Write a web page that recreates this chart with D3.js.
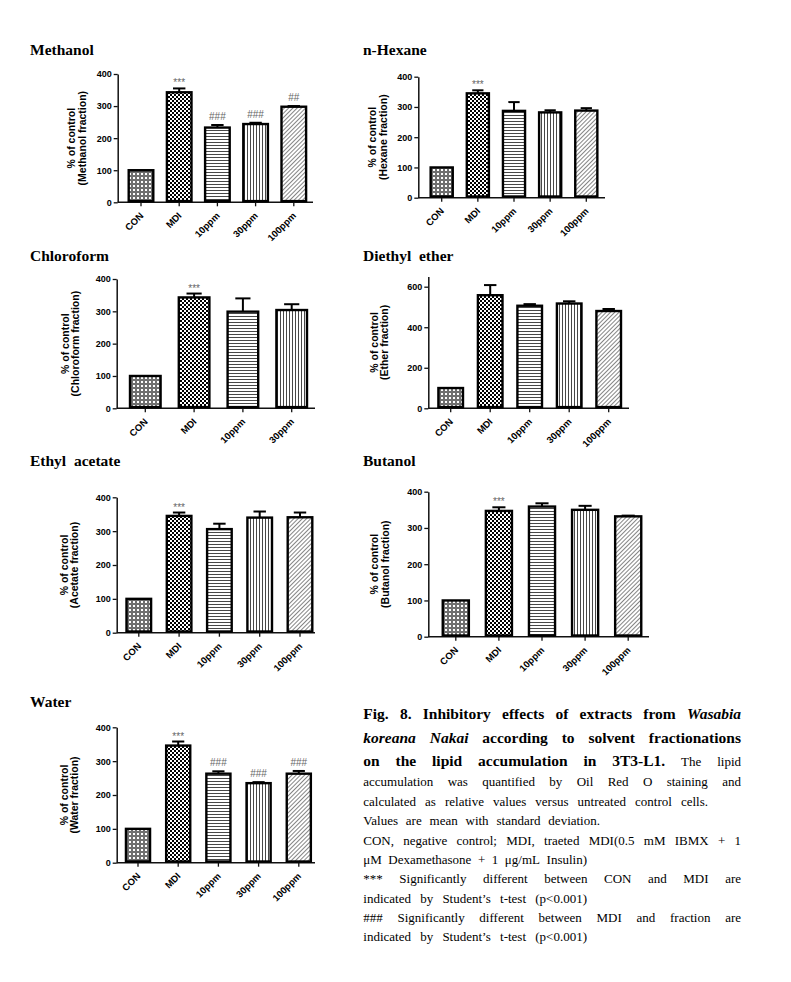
<!DOCTYPE html>
<html><head><meta charset="utf-8">
<script src="https://cdn.jsdelivr.net/npm/d3@7"></script>
<style>body{margin:0;background:#fff}svg{display:block}</style>
</head><body>
<script>
// ---------------- DATA ----------------
const categories = ["CON", "MDI", "10ppm", "30ppm", "100ppm"];
const chloroformCategories = ["CON", "MDI", "10ppm", "30ppm"];

const methanolValues   = [100, 343, 233, 244, 298];
const methanolSD       = [0, 12, 8, 4, 2];
const methanolMarks    = ["", "***", "###", "###", "##"];

const hexaneValues     = [100, 345, 287, 282, 288];
const hexaneSD         = [0, 10, 29, 7, 8];
const hexaneMarks      = ["", "***", "", "", ""];

const chloroformValues = [100, 343, 299, 304];
const chloroformSD     = [0, 12, 41, 18];
const chloroformMarks  = ["", "***", "", ""];

const etherValues      = [100, 558, 506, 517, 480];
const etherSD          = [0, 50, 8, 11, 10];
const etherMarks       = ["", "", "", "", ""];

const acetateValues    = [100, 345, 306, 340, 341];
const acetateSD        = [0, 10, 16, 18, 14];
const acetateMarks     = ["", "***", "", "", ""];

const butanolValues    = [100, 347, 359, 350, 332];
const butanolSD        = [0, 10, 9, 11, 2];
const butanolMarks     = ["", "***", "", "", ""];

const waterValues      = [100, 346, 263, 235, 263];
const waterSD          = [0, 12, 7, 3, 8];
const waterMarks       = ["", "***", "###", "###", "###"];

const ticks400 = [0, 100, 200, 300, 400];
const ticks600 = [0, 200, 400, 600];

const captionText = [
  [["Fig. 8. Inhibitory effects of extracts from", "b"], ["Wasabia", "bi"]],
  [["koreana Nakai", "bi"], ["according to solvent fractionations", "b"]],
  [["on the lipid accumulation in 3T3-L1.", "b"], ["The lipid", "r"]],
  [["accumulation was quantified by Oil Red O staining and", "r"]],
  [["calculated as relative values versus untreated control cells.", "r"]],
  [["Values are mean with standard deviation.", "r"]],
  [["CON, negative control; MDI, traeted MDI(0.5 mM IBMX + 1", "r"]],
  [["\u03bcM Dexamethasone + 1 \u03bcg/mL Insulin)", "r"]],
  [["*** Significantly different between CON and MDI are", "r"]],
  [["indicated by Student\u2019s t-test (p<0.001)", "r"]],
  [["### Significantly different between MDI and fraction are", "r"]],
  [["indicated by Student\u2019s t-test (p<0.001)", "r"]]
];

// ---------------- LAYOUT ----------------
const W = 791, H = 982;
const svg = d3.select("body").append("svg").attr("width", W).attr("height", H);
const defs = svg.append("defs");

// patterns
(function () {
  let p = defs.append("pattern").attr("id", "p0").attr("patternUnits", "userSpaceOnUse").attr("width", 4).attr("height", 4);
  p.append("rect").attr("width", 4).attr("height", 4).attr("fill", "#707070");
  p.append("rect").attr("x", 1).attr("y", 1).attr("width", 2).attr("height", 2).attr("fill", "#fff");
  p = defs.append("pattern").attr("id", "p1").attr("patternUnits", "userSpaceOnUse").attr("width", 4).attr("height", 4);
  p.append("rect").attr("width", 4).attr("height", 4).attr("fill", "#fff");
  p.append("rect").attr("width", 2).attr("height", 2).attr("fill", "#000");
  p.append("rect").attr("x", 2).attr("y", 2).attr("width", 2).attr("height", 2).attr("fill", "#000");
  p = defs.append("pattern").attr("id", "p2").attr("patternUnits", "userSpaceOnUse").attr("width", 4).attr("height", 3);
  p.append("rect").attr("width", 4).attr("height", 3).attr("fill", "#fff");
  p.append("line").attr("x1", 0).attr("x2", 4).attr("y1", 1.5).attr("y2", 1.5).attr("stroke", "#333").attr("stroke-width", 0.9);
  p = defs.append("pattern").attr("id", "p3").attr("patternUnits", "userSpaceOnUse").attr("width", 3).attr("height", 4);
  p.append("rect").attr("width", 3).attr("height", 4).attr("fill", "#fff");
  p.append("line").attr("y1", 0).attr("y2", 4).attr("x1", 1.5).attr("x2", 1.5).attr("stroke", "#333").attr("stroke-width", 0.9);
  p = defs.append("pattern").attr("id", "p4").attr("patternUnits", "userSpaceOnUse").attr("width", 3).attr("height", 3).attr("patternTransform", "rotate(45)");
  p.append("rect").attr("width", 3).attr("height", 3).attr("fill", "#fff");
  p.append("line").attr("y1", 0).attr("y2", 3).attr("x1", 1.5).attr("x2", 1.5).attr("stroke", "#777").attr("stroke-width", 0.9);
})();

const panels = [
  {title: "Methanol", tx: 30, ty: 55, label: "(Methanol fraction)", cats: categories, vals: methanolValues, sd: methanolSD, marks: methanolMarks,
   ax: 117.7, y0: 202.3, yMaxPx: 74, max: 400, top: 400, ticks: ticks400, xEnd: 313, c0: 141, step: 38.2, bw: 27, l1: 43, l2: 32},
  {title: "n-Hexane", tx: 363, ty: 55, label: "(Hexane fraction)", cats: categories, vals: hexaneValues, sd: hexaneSD, marks: hexaneMarks,
   ax: 418.3, y0: 197.7, yMaxPx: 76.7, max: 400, top: 400, ticks: ticks400, xEnd: 605, c0: 441.7, step: 36.15, bw: 24.5, l1: 42, l2: 31},
  {title: "Chloroform", tx: 30, ty: 261, label: "(Chloroform fraction)", cats: chloroformCategories, vals: chloroformValues, sd: chloroformSD, marks: chloroformMarks,
   ax: 116.7, y0: 408.3, yMaxPx: 279, max: 400, top: 400, ticks: ticks400, xEnd: 315, c0: 145.3, step: 48.8, bw: 33, l1: 48, l2: 38},
  {title: "Diethyl  ether", tx: 363, ty: 261, label: "(Ether fraction)", cats: categories, vals: etherValues, sd: etherSD, marks: etherMarks,
   ax: 428.3, y0: 408.3, yMaxPx: 286.7, max: 600, top: 650, ticks: ticks600, xEnd: 629, c0: 450.7, step: 39.5, bw: 27, l1: 50, l2: 40},
  {title: "Ethyl  acetate", tx: 30, ty: 466, label: "(Acetate fraction)", cats: categories, vals: acetateValues, sd: acetateSD, marks: acetateMarks,
   ax: 116.7, y0: 632.7, yMaxPx: 497.3, max: 400, top: 400, ticks: ticks400, xEnd: 315, c0: 138.8, step: 40.3, bw: 27, l1: 49, l2: 39},
  {title: "Butanol", tx: 363, ty: 466, label: "(Butanol fraction)", cats: categories, vals: butanolValues, sd: butanolSD, marks: butanolMarks,
   ax: 428.3, y0: 636.7, yMaxPx: 491.7, max: 400, top: 400, ticks: ticks400, xEnd: 649, c0: 455.8, step: 43.1, bw: 28.5, l1: 50, l2: 39},
  {title: "Water", tx: 30, ty: 707, label: "(Water fraction)", cats: categories, vals: waterValues, sd: waterSD, marks: waterMarks,
   ax: 116.7, y0: 862.7, yMaxPx: 727.3, max: 400, top: 400, ticks: ticks400, xEnd: 315, c0: 138, step: 40.2, bw: 26.5, l1: 49, l2: 39}
];

const sans = "'Liberation Sans', Arial, sans-serif";
const serif = "'Liberation Serif', 'Times New Roman', serif";

panels.forEach(P => {
  const g = svg.append("g");
  g.append("text").attr("x", P.tx).attr("y", P.ty).text(P.title)
    .attr("font-family", serif).attr("font-weight", "bold").attr("font-size", 15.5).attr("fill", "#000")
    .attr("xml:space", "preserve").style("white-space", "pre");

  const pxPerUnit = (P.y0 - P.yMaxPx) / P.max;
  const y = d3.scaleLinear().domain([0, P.top]).range([P.y0, P.y0 - P.top * pxPerUnit]);
  const n = P.cats.length;
  const L = P.c0 - P.step / 2;
  const x = d3.scaleBand().domain(P.cats).range([L, L + n * P.step])
    .paddingInner(1 - P.bw / P.step).paddingOuter((1 - P.bw / P.step) / 2);

  // y axis
  const ya = g.append("g").attr("transform", `translate(${P.ax},0)`)
    .call(d3.axisLeft(y).tickValues(P.ticks).tickSize(4).tickSizeOuter(0).tickPadding(2));
  ya.select(".domain").attr("stroke", "#111").attr("stroke-width", 1.5);
  ya.selectAll(".tick line").attr("stroke", "#111").attr("stroke-width", 1.3);
  ya.selectAll(".tick text").attr("font-family", sans).attr("font-weight", "bold").attr("font-size", 9).attr("fill", "#000");

  // x axis
  const xa = g.append("g").attr("transform", `translate(0,${P.y0})`)
    .call(d3.axisBottom(x).tickSize(4).tickSizeOuter(0).tickPadding(0));
  xa.select(".domain").remove();
  xa.selectAll(".tick line").attr("stroke", "#111").attr("stroke-width", 1.3);
  xa.selectAll(".tick text")
    .attr("font-family", sans).attr("font-weight", "bold").attr("font-size", 9.5).attr("fill", "#000")
    .attr("text-anchor", "end").attr("dy", null).attr("y", 0)
    .attr("transform", "translate(3,14) rotate(-45)");
  g.append("line").attr("x1", P.ax).attr("x2", P.xEnd).attr("y1", P.y0).attr("y2", P.y0)
    .attr("stroke", "#111").attr("stroke-width", 1.5);

  // bars
  const data = P.cats.map((c, i) => ({c, i, v: P.vals[i], sd: P.sd[i], m: P.marks[i]}));
  const sw = 2.4;
  g.selectAll("rect.bar").data(data).join("rect").attr("class", "bar")
    .attr("x", d => x(d.c) + sw / 2).attr("width", x.bandwidth() - sw)
    .attr("y", d => y(d.v)).attr("height", d => y(0) - y(d.v) - sw / 2)
    .attr("fill", d => `url(#p${d.i})`).attr("stroke", "#000").attr("stroke-width", sw);

  // error bars
  const eb = data.filter(d => d.sd > 0);
  g.selectAll("line.err").data(eb).join("line").attr("class", "err")
    .attr("x1", d => x(d.c) + x.bandwidth() / 2).attr("x2", d => x(d.c) + x.bandwidth() / 2)
    .attr("y1", d => y(d.v)).attr("y2", d => y(d.v + d.sd)).attr("stroke", "#000").attr("stroke-width", 2);
  g.selectAll("line.cap").data(eb).join("line").attr("class", "cap")
    .attr("x1", d => x(d.c) + x.bandwidth() * 0.27).attr("x2", d => x(d.c) + x.bandwidth() * 0.73)
    .attr("y1", d => y(d.v + d.sd)).attr("y2", d => y(d.v + d.sd)).attr("stroke", "#000").attr("stroke-width", 2);

  // significance marks
  g.selectAll("text.mark").data(data.filter(d => d.m)).join("text").attr("class", "mark")
    .attr("x", d => x(d.c) + x.bandwidth() / 2)
    .attr("y", d => y(d.v + d.sd) - (d.m[0] === "*" ? 2 : 5))
    .attr("text-anchor", "middle").attr("font-family", sans).attr("font-size", 10).attr("fill", "#666")
    .text(d => d.m);

  // y label
  const cy = (P.y0 + y(P.top)) / 2;
  [["% of control", P.l1], [P.label, P.l2]].forEach(([t, off]) => {
    g.append("text").attr("transform", `translate(${P.ax - off},${cy}) rotate(-90)`)
      .attr("text-anchor", "middle").attr("font-family", sans).attr("font-weight", "bold")
      .attr("font-size", 10.5).attr("fill", "#000").text(t);
  });
});

// ---------------- CAPTION ----------------
const capX0 = 363.3;
const capEnds = [741, 741, 741, 741, 708, 600, 741, 587, 741, 587, 741, 587];
const capYs = [719, 742.5, 766, 786, 805.5, 825, 844.5, 864, 883, 902.5, 922, 941];
const styleOf = {
  b: {w: "bold", s: "normal", f: 15.5},
  bi: {w: "bold", s: "italic", f: 15.5},
  r: {w: "normal", s: "normal", f: 13}
};
const cap = svg.append("g").attr("font-family", serif).attr("fill", "#000");
captionText.forEach((segs, li) => {
  const words = [];
  segs.forEach(([t, st]) => t.split(" ").filter(w => w.length).forEach(w => words.push({w, st})));
  const text = cap.append("text").attr("y", capYs[li]);
  const spans = words.map(o => text.append("tspan").text(o.w)
    .attr("font-weight", styleOf[o.st].w).attr("font-style", styleOf[o.st].s).attr("font-size", styleOf[o.st].f));
  const widths = spans.map(s => s.node().getComputedTextLength());
  const total = d3.sum(widths);
  const gap = words.length > 1 ? (capEnds[li] - capX0 - total) / (words.length - 1) : 0;
  let cx = capX0;
  spans.forEach((s, i) => { s.attr("x", cx); cx += widths[i] + gap; });
});
</script>
</body></html>
